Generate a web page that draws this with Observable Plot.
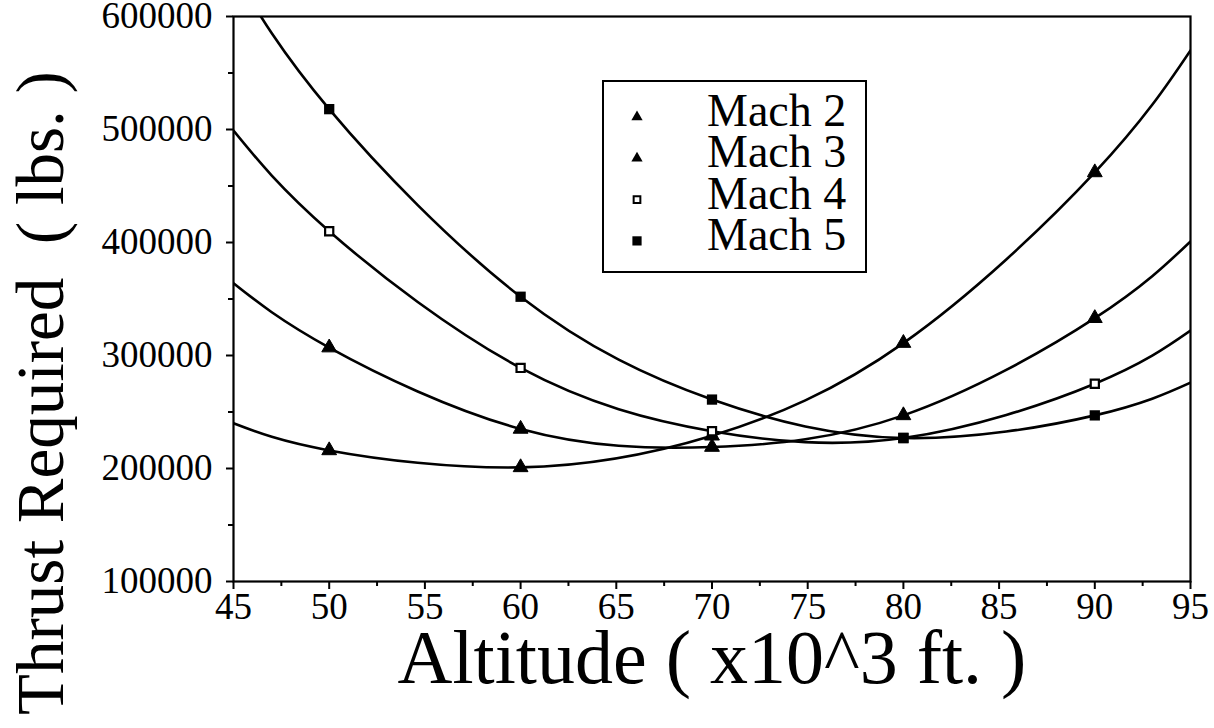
<!DOCTYPE html>
<html>
<head>
<meta charset="utf-8">
<script src="https://cdn.jsdelivr.net/npm/d3@7"></script>
<script src="https://cdn.jsdelivr.net/npm/@observablehq/plot@0.6"></script>
<style>
  html, body { margin: 0; padding: 0; background: #fff; }
  #wrap { position: relative; width: 1214px; height: 728px; overflow: hidden; }
  #legend { position: absolute; left: 602px; top: 80px; }
</style>
</head>
<body>
<div id="wrap"></div>
<script>
// ---- data ----
const altitudes = [45, 50, 60, 70, 80, 90, 95];           // x10^3 ft
const mach2 = [240000, 216000, 201000, 229000, 311000, 462000, 570000];
const mach3 = [364000, 307000, 235000, 219000, 247000, 333000, 401000];
const mach4 = [499000, 410000, 289000, 233000, 227000, 275000, 322000];
const mach5 = [640000, 518000, 352000, 261000, 227000, 247000, 276000];
const markerAltitudes = [50, 60, 70, 80, 90];
const seriesNames = ["Mach 2", "Mach 3", "Mach 4", "Mach 5"];
const xTicks = [45, 50, 55, 60, 65, 70, 75, 80, 85, 90, 95];
const xMinorTicks = [47.5, 52.5, 57.5, 62.5, 67.5, 72.5, 77.5, 82.5, 87.5, 92.5];
const yTicks = [100000, 200000, 300000, 400000, 500000, 600000];
const yMinorTicks = [150000, 250000, 350000, 450000, 550000];
const xTitle = "Altitude ( x10^3 ft. )";
const yTitle = "Thrust Required  ( lbs. )";

const seriesValues = [mach2, mach3, mach4, mach5];
const lines = [];
const points = [];
seriesNames.forEach((name, i) => {
  altitudes.forEach((a, j) => {
    lines.push({series: name, alt: a, thrust: seriesValues[i][j]});
    if (markerAltitudes.includes(a)) points.push({series: name, alt: a, thrust: seriesValues[i][j]});
  });
});

const symbolOf = {"Mach 2": "triangle", "Mach 3": "triangle", "Mach 4": "square", "Mach 5": "square"};
const fillOf = {"Mach 2": "black", "Mach 3": "black", "Mach 4": "white", "Mach 5": "black"};
const serif = "'Liberation Serif', 'Times New Roman', serif";

const chart = Plot.plot({
  width: 1214,
  height: 728,
  marginLeft: 233,
  marginRight: 24,
  marginTop: 16,
  marginBottom: 147,
  style: {background: "white", fontFamily: serif, color: "black"},
  x: {domain: [45, 95]},
  y: {domain: [100000, 600000]},
  marks: [
    Plot.axisY(yTicks, {tickSize: 7, tickPadding: 14, fontSize: 37, tickFormat: d3.format("d"), label: null, strokeWidth: 2}),
    Plot.axisY(yMinorTicks, {tickSize: 5, text: null, label: null, strokeWidth: 2}),
    Plot.axisX(xTicks, {tickSize: 8, tickPadding: 3, fontSize: 37, label: null, strokeWidth: 2}),
    Plot.axisX(xMinorTicks, {tickSize: 5, text: null, label: null, strokeWidth: 2}),
    Plot.frame({stroke: "black", strokeWidth: 2.2}),
    Plot.line(lines, {x: "alt", y: "thrust", z: "series", curve: "natural", stroke: "black", strokeWidth: 2.6, clip: true}),
    Plot.dot(points.filter(d => symbolOf[d.series] === "triangle"), {x: "alt", y: "thrust", symbol: "triangle", r: 5.5, fill: "black", stroke: "black", strokeWidth: 1}),
    Plot.dot(points.filter(d => d.series === "Mach 4"), {x: "alt", y: "thrust", symbol: "square", r: 4.6, fill: "white", stroke: "black", strokeWidth: 2.2}),
    Plot.dot(points.filter(d => d.series === "Mach 5"), {x: "alt", y: "thrust", symbol: "square", r: 5.8, fill: "black"}),
    Plot.text([xTitle], {frameAnchor: "bottom", text: d => d, fontSize: 76, textAnchor: "middle", lineAnchor: "bottom", dy: 101, fill: "black"}),
    Plot.text([yTitle], {frameAnchor: "left", text: d => d, fontSize: 67, rotate: -90, textAnchor: "middle", lineAnchor: "bottom", dx: -171, dy: 94, fill: "black"})
  ]
});
document.getElementById("wrap").appendChild(chart);

// ---- legend (inside the plot area, as in the reference) ----
const lg = d3.select("#wrap").append("svg")
  .attr("id", "legend")
  .attr("width", 266).attr("height", 194);
lg.append("rect").attr("x", 1).attr("y", 1).attr("width", 263).attr("height", 191)
  .attr("fill", "white").attr("stroke", "black").attr("stroke-width", 2);
seriesNames.forEach((name, i) => {
  const cy = 37 + i * 41.3;
  const sym = symbolOf[name] === "triangle" ? d3.symbolTriangle : d3.symbolSquare;
  const size = symbolOf[name] === "triangle" ? 55 : (name === "Mach 4" ? 45 : 85);
  lg.append("path").attr("d", d3.symbol(sym, size)())
    .attr("transform", `translate(35,${cy})`)
    .attr("fill", fillOf[name]).attr("stroke", "black").attr("stroke-width", name === "Mach 4" ? 2 : 0);
  lg.append("text").attr("x", 105).attr("y", cy + 9).text(name)
    .attr("font-family", serif)
    .attr("font-size", 46).attr("fill", "black");
});
</script>
</body>
</html>
